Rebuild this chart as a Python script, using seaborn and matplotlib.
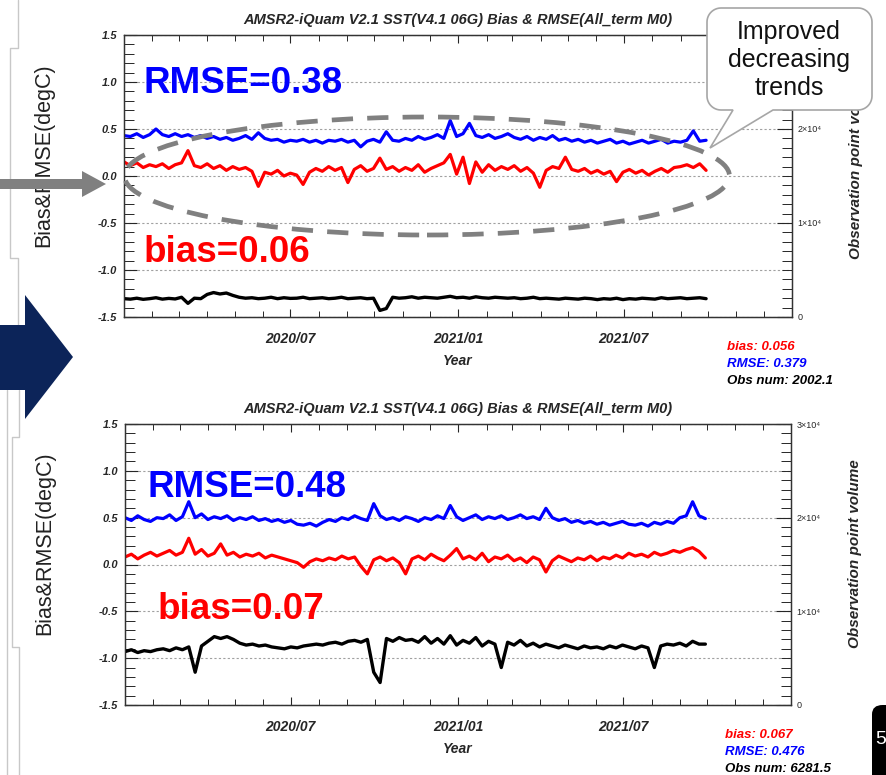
import numpy as np
import pandas as pd
import matplotlib
matplotlib.use("Agg")
import matplotlib.pyplot as plt
import matplotlib.dates as mdates
from matplotlib.ticker import MultipleLocator
from matplotlib.patches import Polygon, Ellipse, FancyBboxPatch
import seaborn as sns

sns.set_style("ticks")
plt.rcParams['font.family'] = ['Liberation Sans', 'DejaVu Sans']

# ---------------- data (weekly steps) ----------------
dates = pd.date_range('2020-01-01', periods=92, freq='7D')

# upper panel
rmse_top = [0.43, 0.42, 0.45, 0.41, 0.44, 0.50, 0.44, 0.42, 0.45, 0.42,
            0.44, 0.41, 0.43, 0.40, 0.42, 0.39, 0.41, 0.38, 0.40, 0.43,
            0.39, 0.46, 0.40, 0.38, 0.39, 0.36, 0.38, 0.37, 0.39, 0.36,
            0.38, 0.35, 0.38, 0.37, 0.39, 0.36, 0.38, 0.31, 0.37, 0.39,
            0.36, 0.47, 0.38, 0.37, 0.40, 0.38, 0.42, 0.39, 0.41, 0.44,
            0.40, 0.59, 0.42, 0.45, 0.56, 0.43, 0.41, 0.44, 0.40, 0.42,
            0.45, 0.41, 0.39, 0.42, 0.38, 0.41, 0.39, 0.43, 0.38, 0.40,
            0.37, 0.39, 0.36, 0.38, 0.35, 0.37, 0.39, 0.35, 0.37, 0.34,
            0.36, 0.38, 0.35, 0.37, 0.39, 0.35, 0.37, 0.36, 0.38, 0.48,
            0.37, 0.38]
bias_top = [0.15, 0.11, 0.14, 0.09, 0.12, 0.10, 0.13, 0.08, 0.12, 0.14,
            0.27, 0.11, 0.09, 0.13, 0.08, 0.11, 0.06, 0.10, 0.07, 0.09,
            0.05, -0.11, 0.04, 0.02, 0.06, 0.00, 0.03, 0.01, -0.09, 0.04,
            0.08, 0.05, 0.10, 0.06, 0.09, -0.07, 0.07, 0.11, 0.05, 0.08,
            0.19, 0.07, 0.10, 0.05, 0.09, 0.06, 0.12, 0.04, 0.08, 0.11,
            0.14, 0.23, 0.02, 0.20, -0.08, 0.15, 0.04, 0.12, 0.06, 0.10,
            0.07, 0.11, 0.05, 0.09, 0.03, -0.12, 0.06, 0.10, 0.08, 0.20,
            0.07, 0.05, 0.08, 0.03, 0.06, 0.02, 0.05, -0.06, 0.04, 0.07,
            0.03, 0.06, 0.01, 0.05, 0.08, 0.04, 0.09, 0.10, 0.12, 0.09,
            0.13, 0.06]
obs_top = [1950, 1900, 2000, 1880, 1950, 2050, 1900, 1980, 1920, 2100,
           1450, 2000, 1950, 2400, 2600, 2450, 2550, 2300, 2100, 2000,
           2050, 1950, 2000, 2100, 1950, 2050, 1980, 2000, 2100, 1950,
           2000, 2050, 1950, 2000, 2100, 1950, 2000, 2050, 1950, 2000,
           700, 900, 2100, 2000, 2050, 2150, 2000, 2100, 2050, 2000,
           2100, 2200, 2050, 2100, 2000, 2150, 2050, 2000, 2100, 2050,
           2000, 2050, 1950, 2000, 2100, 1950, 2000, 1950, 1900, 2000,
           1950, 1900, 2000, 1950, 1850, 1950, 1900, 2000, 1850, 1950,
           1900, 2000, 1950, 1900, 2050, 1950, 2000, 2050, 1950, 2000,
           2050, 1950]

# lower panel
rmse_bot = [0.50, 0.47, 0.52, 0.48, 0.46, 0.50, 0.49, 0.53, 0.47, 0.51,
            0.67, 0.50, 0.54, 0.48, 0.51, 0.49, 0.52, 0.47, 0.50, 0.48,
            0.51, 0.47, 0.49, 0.46, 0.48, 0.45, 0.47, 0.43, 0.42, 0.44,
            0.41, 0.45, 0.48, 0.46, 0.50, 0.48, 0.52, 0.49, 0.47, 0.65,
            0.52, 0.48, 0.50, 0.47, 0.51, 0.49, 0.46, 0.50, 0.48, 0.52,
            0.49, 0.63, 0.51, 0.47, 0.50, 0.53, 0.48, 0.51, 0.49, 0.52,
            0.48, 0.50, 0.53, 0.49, 0.51, 0.48, 0.60, 0.50, 0.47, 0.49,
            0.45, 0.47, 0.44, 0.46, 0.43, 0.45, 0.42, 0.44, 0.46, 0.43,
            0.42, 0.44, 0.41, 0.45, 0.43, 0.46, 0.44, 0.50, 0.52, 0.67,
            0.52, 0.49]
bias_bot = [0.08, 0.11, 0.06, 0.10, 0.13, 0.09, 0.12, 0.15, 0.10, 0.13,
            0.28, 0.11, 0.16, 0.09, 0.12, 0.22, 0.10, 0.13, 0.08, 0.11,
            0.09, 0.12, 0.07, 0.10, 0.08, 0.06, 0.04, 0.02, -0.03, 0.03,
            0.06, 0.04, 0.07, 0.05, 0.09, 0.06, 0.08, -0.02, -0.10, 0.05,
            0.08, 0.04, 0.07, 0.02, -0.10, 0.06, 0.09, 0.05, 0.11, 0.07,
            0.04, 0.10, 0.17, 0.06, 0.09, 0.05, 0.12, 0.03, 0.08, 0.06,
            0.10, 0.04, 0.07, 0.02, 0.08, 0.05, -0.08, 0.04, 0.09, 0.06,
            0.03, 0.07, 0.05, 0.09, 0.04, 0.08, 0.06, 0.10, 0.07, 0.12,
            0.09, 0.11, 0.08, 0.13, 0.10, 0.12, 0.15, 0.13, 0.16, 0.18,
            0.14, 0.07]
obs_bot = [5700, 5900, 5600, 5800, 5700, 5900, 6000, 5800, 6100, 5900,
           6200, 3500, 6300, 6800, 7300, 7100, 7300, 7000, 6600, 6400,
           6500, 6300, 6400, 6200, 6100, 6000, 6200, 6100, 6300, 6400,
           6500, 6400, 6600, 6700, 6500, 6800, 6900, 6700, 7000, 3500,
           2400, 7100, 6800, 7200, 6900, 7000, 6700, 7300, 6600, 7100,
           6500, 7400, 6400, 6900, 6600, 7200, 6300, 6800, 6500, 4000,
           6700, 6400, 6900, 6300, 6600, 6200, 6500, 6300, 6100, 6400,
           6200, 6000, 6300, 6100, 6200, 6000, 6300, 6100, 6400, 6200,
           6000, 6300, 6100, 4000, 6300, 6500, 6400, 6600, 6300, 6800,
           6500, 6500]

title = 'AMSR2-iQuam V2.1 SST(V4.1 06G) Bias & RMSE(All_term M0)'
xtick_dates = ['2020-07-01', '2021-01-01', '2021-07-01']
xtick_labels = ['2020/07', '2021/01', '2021/07']
ytick_vals = [-1.5, -1.0, -0.5, 0.0, 0.5, 1.0, 1.5]
rtick_vals = [0, 10000, 20000, 30000]
rtick_labels_top = ['0', '1×10⁴', '2×10⁴', '']   # top one is hidden by the callout
rtick_labels_bot = ['0', '1×10⁴', '2×10⁴', '3×10⁴']

panels = [
    dict(rmse=rmse_top, bias=bias_top, obs=obs_top, rlabels=rtick_labels_top,
         stats=['bias: 0.056', 'RMSE: 0.379', 'Obs num: 2002.1'],
         big_rmse='RMSE=0.38', big_bias='bias=0.06'),
    dict(rmse=rmse_bot, bias=bias_bot, obs=obs_bot, rlabels=rtick_labels_bot,
         stats=['bias: 0.067', 'RMSE: 0.476', 'Obs num: 6281.5'],
         big_rmse='RMSE=0.48', big_bias='bias=0.07'),
]

W, H = 886, 775
def fx(px):
    return px / W
def fy(py):
    return 1 - py / H

fig = plt.figure(figsize=(W / 100, H / 100), dpi=100)

# axes boxes in pixel coords: left, top, right, bottom
boxes = [(124, 35, 792, 317), (125, 424, 791, 705)]
stat_pos = [(727, 347), (725, 735)]
big_pos = [((144, 93), (144, 262)), ((147, 497), (158, 619))]

idl = dict(fontweight='bold', fontstyle='italic')

for p, (l, t, r, b), (sx, sy), (rp, bp) in zip(panels, boxes, stat_pos, big_pos):
    ax = fig.add_axes([fx(l), fy(b), fx(r) - fx(l), (b - t) / H])
    sns.lineplot(x=dates, y=p['rmse'], ax=ax, color='#0000ff', linewidth=2.3)
    sns.lineplot(x=dates, y=p['bias'], ax=ax, color='#ff0000', linewidth=2.3)
    ax.set_ylim(-1.5, 1.5)
    ax.set_xlim(pd.Timestamp('2020-01-01'), pd.Timestamp('2022-01-01'))
    ax.set_yticks(ytick_vals, [f'{v:.1f}' for v in ytick_vals], fontsize=8, **idl)
    ax.yaxis.set_minor_locator(MultipleLocator(0.1))
    ax.set_xticks([mdates.date2num(pd.Timestamp(d)) for d in xtick_dates],
                  xtick_labels, fontsize=10, **idl)
    ax.xaxis.set_minor_locator(mdates.MonthLocator())
    ax.tick_params(axis='y', which='major', direction='in', length=9, width=0.8,
                   left=True, right=False, pad=5)
    ax.tick_params(axis='y', which='minor', direction='in', length=7, width=0.7,
                   left=True, right=False)
    ax.tick_params(axis='x', which='major', direction='in', length=6, width=0.8,
                   top=True, bottom=True, pad=11)
    ax.tick_params(axis='x', which='minor', direction='in', length=4, width=0.7,
                   top=True, bottom=True)
    ax.yaxis.grid(True, color='#a0a0a0', linestyle=(0, (2, 2)), linewidth=0.8)
    for s in ax.spines.values():
        s.set_color('#333333')
        s.set_linewidth(1.0)
    ax.set_title(title, fontsize=10.5, pad=8, **idl)
    ax.set_xlabel('Year', fontsize=10, **idl)
    ax.xaxis.set_label_coords(0.5, -0.13)
    ax.set_ylabel('Bias&RMSE(degC)', fontsize=15.5, color='#222222')
    ax.yaxis.set_label_coords(-0.104, 0.575)

    ax2 = ax.twinx()
    sns.lineplot(x=dates, y=p['obs'], ax=ax2, color='black', linewidth=2.4)
    ax2.set_ylim(0, 30000)
    ax2.set_yticks(rtick_vals, p['rlabels'], fontsize=6.5)
    ax2.yaxis.set_minor_locator(MultipleLocator(1000))
    ax2.tick_params(axis='y', which='major', direction='in', length=11, width=0.8, pad=4)
    ax2.tick_params(axis='y', which='minor', direction='in', length=7, width=0.7)
    ax2.set_ylabel('Observation point volume', fontsize=11, rotation=90, **idl)
    ax2.yaxis.set_label_coords(1.086, 0.54)
    for s in ax2.spines.values():
        s.set_color('#333333')

    for k, (txt, col) in enumerate(zip(p['stats'], ['#ff0000', '#0000ff', 'black'])):
        fig.text(fx(sx), fy(sy + 17 * k), txt, color=col, fontsize=9.5,
                 va='center', ha='left', **idl)

    fig.text(fx(rp[0]), fy(rp[1]), p['big_rmse'], color='#0000ff', fontsize=26.5,
             fontweight='bold', va='baseline', ha='left', zorder=6)
    fig.text(fx(bp[0]), fy(bp[1]), p['big_bias'], color='#ff0000', fontsize=26.5,
             fontweight='bold', va='baseline', ha='left', zorder=6)

# ---------------- slide decorations ----------------
def to_fig(pts):
    return [(fx(x), fy(y)) for x, y in pts]

line_col = '#c8c8c8'
for seg in [[(18, 0), (18, 48), (10, 48), (10, 258), (18, 258), (18, 330)],
            [(7, 390), (7, 775)],
            [(19, 390), (19, 437), (12, 437), (12, 647), (19, 647), (19, 775)]]:
    xs, ys = zip(*to_fig(seg))
    fig.add_artist(plt.Line2D(xs, ys, color=line_col, lw=1.0, zorder=1))

# navy block arrow between the panels
fig.add_artist(Polygon(to_fig([(0, 325), (25, 325), (25, 295), (73, 357),
                               (25, 419), (25, 390), (0, 390)]),
                       closed=True, transform=fig.transFigure,
                       facecolor='#0c2459', edgecolor='none', zorder=6))

# gray arrow pointing at the zero line
fig.add_artist(Polygon(to_fig([(0, 179), (82, 179), (82, 171), (106, 184),
                               (82, 197), (82, 189), (0, 189)]),
                       closed=True, transform=fig.transFigure,
                       facecolor='#808080', edgecolor='none', zorder=6))

# dashed ellipse around the bias / rmse curves
fig.add_artist(Ellipse((fx(427), fy(176)), 605 / W, 118 / H,
                       transform=fig.transFigure, fill=False, edgecolor='#808080',
                       linewidth=3.4, linestyle=(0, (4.5, 3)), zorder=6))

# callout box
x0, x1, y0, y1, rr = 707, 872, 8, 110, 14
def arc(cx, cy, a0, a1):
    a = np.radians(np.linspace(a0, a1, 12))
    return list(zip(cx + rr * np.cos(a), cy + rr * np.sin(a)))
call = ([(x0 + rr, y0)] + arc(x1 - rr, y0 + rr, -90, 0) + arc(x1 - rr, y1 - rr, 0, 90)
        + [(773, y1), (710, 148), (733, y1)] + arc(x0 + rr, y1 - rr, 90, 180)
        + arc(x0 + rr, y0 + rr, 180, 270))
fig.add_artist(Polygon(to_fig(call), closed=True, transform=fig.transFigure,
                       facecolor='white', edgecolor='#a6a6a6', linewidth=1.2, zorder=7))
fig.text(fx(789), fy(60), 'Improved\ndecreasing\ntrends', fontsize=18, ha='center',
         va='center', linespacing=1.2, color='#111111', zorder=8)

# page badge bottom right
fig.add_artist(FancyBboxPatch((fx(872), fy(790)), 40 / W, 85 / H,
                              boxstyle='round,pad=0,rounding_size=0.012',
                              transform=fig.transFigure, facecolor='black',
                              edgecolor='none', zorder=6))
fig.text(fx(875), fy(740), '5', color='white', fontsize=14, ha='left', va='center',
         zorder=7)

fig.savefig('out.png', dpi=100)
